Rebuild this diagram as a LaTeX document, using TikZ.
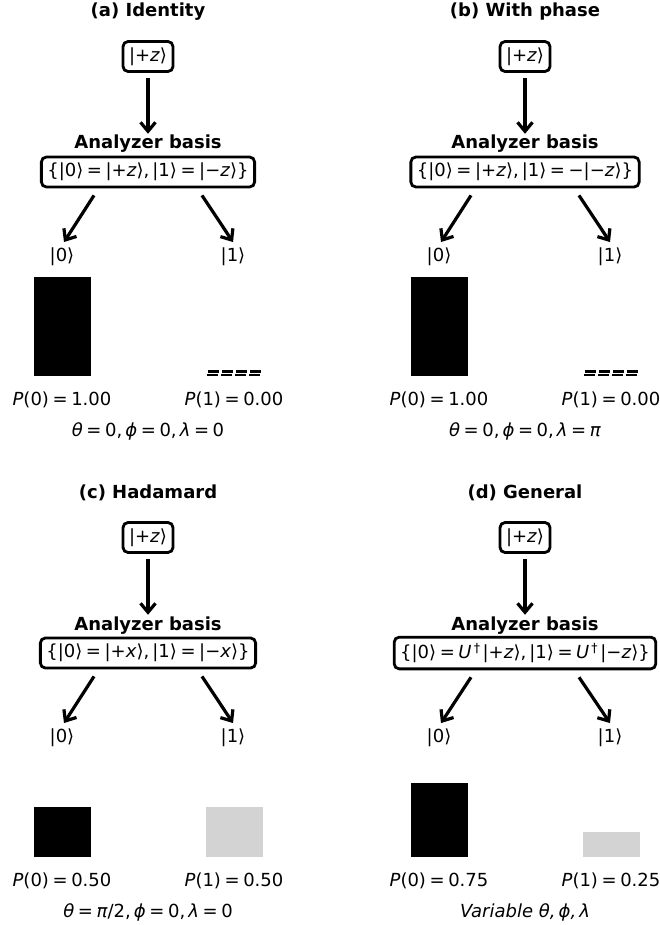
\documentclass[tikz,border=0pt]{standalone}
\usepackage{fontspec}
\setmainfont{DejaVu Sans}
\usepackage{tikz}
\usetikzlibrary{arrows.meta, positioning}
\definecolor{lgray}{HTML}{D3D3D3}
\newcommand\mi[1]{\textit{#1}}
\newcommand\ket[1]{|#1⟩}
\newcommand\eqs{\hspace{0.2em}=\hspace{0.2em}}
\newcommand\cma{,\hspace{0.17em}}

\begin{document}
\begin{tikzpicture}[x=1pt, y=-1pt,
  font=\fontsize{18}{21}\selectfont,
  ttl/.style={font=\fontsize{18}{21}\selectfont\bfseries, anchor=base},
  ketbox/.style={draw, rounded corners=5pt, line width=2.8pt, inner xsep=6pt, inner ysep=6pt},
  lbl/.style={anchor=base, inner sep=0pt},
  bar/.style={anchor=south, minimum width=57pt, minimum height=#1, inner sep=0pt},
  arrow/.style={-{Straight Barb[length=9pt, width=15pt]}, line width=3.2pt}
]
\useasboundingbox (0,0) rectangle (660,925);

\foreach \cx/\cy/\tg/\ttl/\basis/\pz/\po/\hz/\ho/\prm in {
  148/0/a/{(a) Identity}/{\{\ket{0}\eqs\ket{+\mi{z}}\cma\ket{1}\eqs\ket{−\mi{z}}\}}/1.00/0.00/99/0/{\mi{θ}\eqs0\cma\mi{ϕ}\eqs0\cma\mi{λ}\eqs0},
  525/0/b/{(b) With phase}/{\{\ket{0}\eqs\ket{+\mi{z}}\cma\ket{1}\eqs−\ket{−\mi{z}}\}}/1.00/0.00/99/0/{\mi{θ}\eqs0\cma\mi{ϕ}\eqs0\cma\mi{λ}\eqs\mi{π}},
  148/481/c/{(c) Hadamard}/{\{\ket{0}\eqs\ket{+\mi{x}}\cma\ket{1}\eqs\ket{−\mi{x}}\}}/0.50/0.50/49.5/49.5/{\mi{θ}\eqs\mi{π}/2\cma\mi{ϕ}\eqs0\cma\mi{λ}\eqs0},
  525/481/d/{(d) General}/{\{\ket{0}\eqs\mi{U}\textsuperscript{\,†\,}\ket{+\mi{z}}\cma\ket{1}\eqs\mi{U}\textsuperscript{\,†\,}\ket{−\mi{z}}\}}/0.75/0.25/74.25/24.75/{\mi{Variable θ\cma ϕ\cma λ}}
}{
  \node[ttl] (title\tg) at (\cx, \cy+17) {\ttl};
  \node[ketbox] (init\tg) at (\cx, \cy+56.5) {\ket{+\mi{z}}};
  \node[ttl] (an\tg) at (\cx, \cy+149) {Analyzer basis};
  \node[ketbox] (basis\tg) at (\cx, \cy+172) {\basis};
  \node[lbl] (ket0\tg) at (\cx-86, \cy+261) {\ket{0}};
  \node[lbl] (ket1\tg) at (\cx+85, \cy+261) {\ket{1}};
  \node[bar=\hz pt, fill=black] (bar0\tg) at (\cx-86, \cy+376) {};
  \node[bar=\ho pt, fill=lgray] (bar1\tg) at (\cx+86, \cy+376) {};
  \node[lbl] (p0\tg) at ([yshift=-29pt]bar0\tg.south) {\mi{P}(0)\eqs\pz};
  \node[lbl] (p1\tg) at ([yshift=-29pt]bar1\tg.south) {\mi{P}(1)\eqs\po};
  \node[lbl] (prm\tg) at (\cx, \cy+436) {\prm};

  \draw[arrow, shorten <=5pt] (init\tg.south) -- ([yshift=-2pt]an\tg.north);
  \draw[arrow] ([xshift=-54pt, yshift=-7pt]basis\tg.south) -- ([xshift=2pt, yshift=5pt]ket0\tg.north);
  \draw[arrow] ([xshift=54pt, yshift=-7pt]basis\tg.south) -- ([yshift=5pt]ket1\tg.north);
}

\foreach \tg in {a,b}{
  \draw[dash pattern=on 11pt off 3pt, line width=2.2pt] ([xshift=-26pt, yshift=4.5pt]bar1\tg.south) -- ++(56,0);
  \draw[dash pattern=on 11pt off 3pt, line width=2.2pt] ([xshift=-27pt, yshift=1pt]bar1\tg.south) -- ++(56,0);
}
\end{tikzpicture}
\end{document}
